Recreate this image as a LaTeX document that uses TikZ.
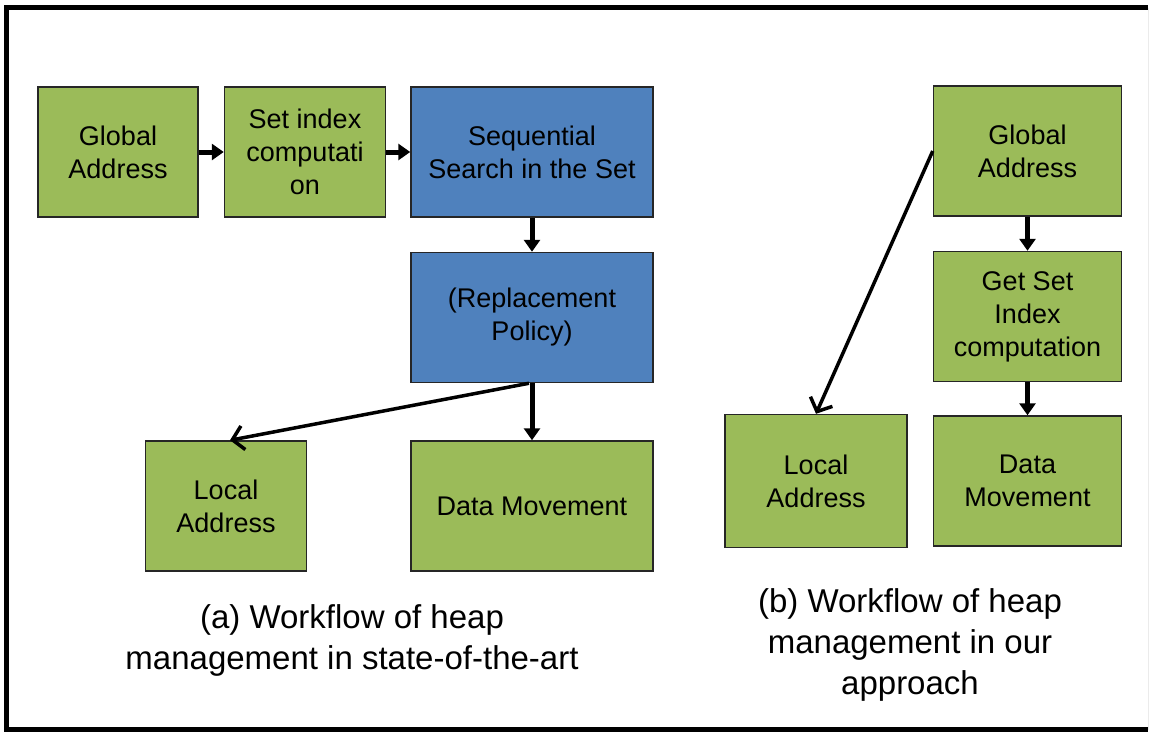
\documentclass[tikz,border=0pt]{standalone}
\usepackage{fontspec}
\setmainfont{Liberation Sans}
\usetikzlibrary{arrows.meta,positioning}
\definecolor{boxgreen}{HTML}{9BBB59}
\definecolor{boxblue}{HTML}{4F81BD}
\tikzset{
  greenbox/.style={draw=black!85,fill=boxgreen,line width=1.5pt,align=center,
    minimum height=130pt,inner sep=0pt,font=\fontsize{27}{33}\selectfont},
  bluebox/.style={greenbox,fill=boxblue},
  arrow/.style={-{Triangle[length=12pt,width=16pt]},line width=5pt},
  barb/.style={-{Straight Barb[length=11pt,width=24pt]},line width=3.5pt},
  caption/.style={align=center,font=\fontsize{33}{41}\selectfont}
}

\begin{document}
\begin{tikzpicture}[x=1pt,y=-1pt]
\useasboundingbox (0,0) rectangle (1151,732);
% frame
\draw[line width=5pt] (1148,7.5) -- (6.5,7.5) -- (6.5,729.5) -- (1148,729.5);
\draw[black!8,line width=1pt] (1148.5,7.5) -- (1148.5,729.5);

% (a) state of the art
\node[greenbox,minimum width=160pt] (ga) at (118,152) {Global\\Address};
\node[greenbox,minimum width=161pt,right=25pt of ga] (sic) {Set index\\computati\\on};
\node[bluebox,minimum width=242pt,right=24pt of sic] (sss) {Sequential\\Search in the Set};
\node[bluebox,minimum width=242pt,below=34pt of sss] (rp) {(Replacement\\Policy)};
\node[greenbox,minimum width=242pt,below=57pt of rp] (dm) {Data Movement};
\node[greenbox,minimum width=161pt,left=103pt of dm] (la) {Local\\Address};
\draw[arrow] (ga) -- (sic);
\draw[arrow] (sic) -- (sss);
\draw[arrow] (sss) -- (rp);
\draw[arrow] (rp) -- (dm);
\draw[barb] ([xshift=-3pt]rp.south) -- ([xshift=4pt]la.north);
\node[caption] (capa) at (352,640) {(a) Workflow of heap\\management in state-of-the-art};

% (b) our approach
\node[greenbox,minimum width=188pt] (gb) at (1027.5,151) {Global\\Address};
\node[greenbox,minimum width=188pt,below=34pt of gb] (gsi) {Get Set\\Index\\computation};
\node[greenbox,minimum width=188pt,below=33pt of gsi] (dmb) {Data\\Movement};
\node[greenbox,minimum width=182pt,minimum height=133pt,left=25pt of dmb] (lab) {Local\\Address};
\draw[arrow] (gb) -- (gsi);
\draw[arrow] (gsi) -- (dmb);
\draw[barb] (gb.west) -- (lab.north);
\node[caption] (capb) at (910,645) {(b) Workflow of heap\\management in our\\approach};
\end{tikzpicture}
\end{document}
